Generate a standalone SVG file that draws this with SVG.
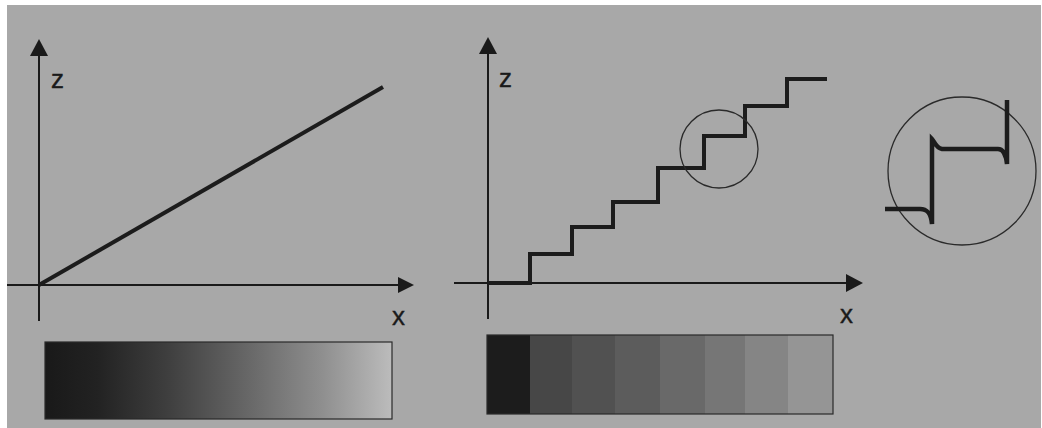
<svg xmlns="http://www.w3.org/2000/svg" width="1042" height="428" viewBox="0 0 1042 428">
<style>
.axis{stroke:#1a1a1a;stroke-width:2;fill:none}
.curve{stroke:#1c1c1c;stroke-width:4;fill:none;stroke-linejoin:miter}
.thick{stroke-width:4.5}
.ring{stroke:#2a2a2a;stroke-width:1.3;fill:none}
.lbl{font-family:"Liberation Sans",Arial,sans-serif;font-size:26px;fill:#1a1a1a;stroke:#1a1a1a;stroke-width:0.4}
.bar{stroke:#2a2a2a;stroke-width:1.2}
.head{fill:#1a1a1a}
</style>
<defs>
<linearGradient id="g1" x1="0" y1="0" x2="1" y2="0">
<stop offset="0" stop-color="#191919"/>
<stop offset="0.15" stop-color="#222222"/>
<stop offset="0.35" stop-color="#3e3e3e"/>
<stop offset="0.6" stop-color="#6a6a6a"/>
<stop offset="0.8" stop-color="#8f8f8f"/>
<stop offset="1" stop-color="#bcbcbc"/>
</linearGradient>
</defs>
<rect x="0" y="0" width="1042" height="428" fill="#ffffff"/>
<rect x="7" y="5" width="1034" height="423" fill="#a8a8a8"/>

<g id="left-plot">
<line class="axis" x1="39" y1="50" x2="39" y2="321"/>
<line class="axis" x1="7" y1="285" x2="402" y2="285"/>
<polygon class="head" points="39,39 30,56 48,56"/>
<polygon class="head" points="414,285 398,277 398,293"/>
<text class="lbl" x="51" y="88">z</text>
<text class="lbl" x="392" y="325">x</text>
<line class="curve" x1="39" y1="285" x2="383" y2="87"/>
</g>

<g id="right-plot">
<line class="axis" x1="488" y1="48" x2="488" y2="319"/>
<line class="axis" x1="454" y1="283" x2="850" y2="283"/>
<polygon class="head" points="488,37 479,54 497,54"/>
<polygon class="head" points="863,283 846,274 846,292"/>
<text class="lbl" x="499" y="87">z</text>
<text class="lbl" x="840" y="323">x</text>
<path class="curve" d="M488,283 H530 V254 H572 V227 H613 V202 H658 V168 H704 V136 H745 V106 H787 V79 H827"/>
<circle class="ring" cx="719" cy="149" r="39"/>
</g>

<g id="detail">
<circle class="ring" cx="962" cy="171" r="74"/>
<path class="curve thick" d="M885,209 L920,209 C928,209 931,214 932,224 L932,139 C934,141 936,148 942,149 L998,149 C1004,149 1006,155 1007,164 L1007,100"/>
</g>

<g id="left-bar">
<rect class="bar" x="45" y="342" width="347" height="77" fill="url(#g1)"/>
</g>

<g id="right-bar">
<rect x="487" y="335" width="43" height="79" fill="#1c1c1c"/>
<rect x="530" y="335" width="42" height="79" fill="#474747"/>
<rect x="572" y="335" width="43" height="79" fill="#515151"/>
<rect x="615" y="335" width="45" height="79" fill="#5c5c5c"/>
<rect x="660" y="335" width="45" height="79" fill="#696969"/>
<rect x="705" y="335" width="40" height="79" fill="#767676"/>
<rect x="745" y="335" width="43" height="79" fill="#858585"/>
<rect x="788" y="335" width="45" height="79" fill="#959595"/>
<rect class="bar" x="487" y="335" width="346" height="79" fill="none"/>
</g>
</svg>
